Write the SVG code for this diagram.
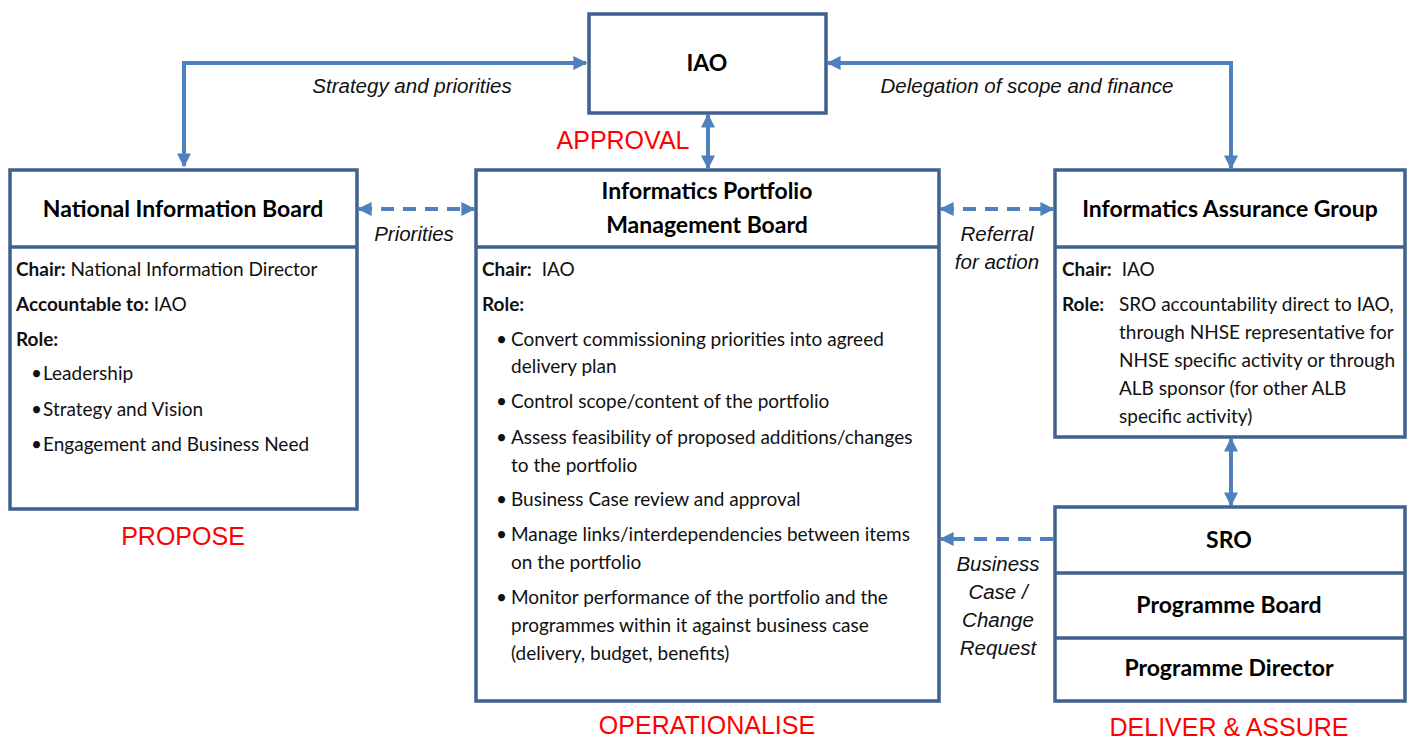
<svg xmlns="http://www.w3.org/2000/svg" width="1410" height="740" viewBox="0 0 1410 740">
<defs>
<marker id="ah" viewBox="0 0 10 10" refX="9" refY="5" markerWidth="14" markerHeight="14" markerUnits="userSpaceOnUse" orient="auto-start-reverse">
<path d="M0,0 L10,5 L0,10 z" fill="#4F81BD"/>
</marker>
<style>
.box{fill:#fff;stroke:#3E6190;stroke-width:3.5}
.div{stroke:#3E6190;stroke-width:3.5}
.con{fill:none;stroke:#4F81BD;stroke-width:4}
.dash{stroke-dasharray:13 9}
.hd{font-family:Lato,"Liberation Sans",sans-serif;font-weight:bold;font-size:23px;fill:#000;text-anchor:middle}
.bd{font-family:Lato,"Liberation Sans",sans-serif;font-size:19px;fill:#111}
.b{font-weight:bold}
.lab{font-family:"Liberation Sans",Arial,sans-serif;font-style:italic;font-size:20.5px;fill:#111;text-anchor:middle}
.red{font-family:"Liberation Sans",Arial,sans-serif;font-size:25px;fill:#FF0000;text-anchor:middle}
</style>
</defs>
<g id="connectors">
<path class="con" d="M184,166 V63 H586" marker-start="url(#ah)" marker-end="url(#ah)"/>
<path class="con" d="M828,63 H1231 V168" marker-start="url(#ah)" marker-end="url(#ah)"/>
<path class="con" d="M708,115 V168" marker-start="url(#ah)" marker-end="url(#ah)"/>
<path class="con dash" d="M359,209 H474" marker-start="url(#ah)" marker-end="url(#ah)"/>
<path class="con dash" d="M941,209 H1053" marker-start="url(#ah)" marker-end="url(#ah)"/>
<path class="con" d="M1231,439 V505" marker-start="url(#ah)" marker-end="url(#ah)"/>
<path class="con dash" d="M1053,539 H941" marker-end="url(#ah)"/>
<text class="lab" x="412" y="93">Strategy and priorities</text>
<text class="lab" x="1027" y="93">Delegation of scope and finance</text>
<text class="lab" x="414" y="241">Priorities</text>
<text class="lab" x="997" y="241">Referral</text>
<text class="lab" x="997" y="269">for action</text>
<text class="lab" x="998" y="571">Business</text>
<text class="lab" x="998" y="599">Case /</text>
<text class="lab" x="998" y="627">Change</text>
<text class="lab" x="998" y="655">Request</text>
</g>
<g id="iao">
<rect class="box" x="589" y="14" width="237" height="99"/>
<text class="hd" x="707" y="71">IAO</text>
<text class="red" x="623" y="149">APPROVAL</text>
</g>
<g id="nib">
<rect class="box" x="10" y="170" width="347" height="339"/>
<line class="div" x1="10" y1="247" x2="357" y2="247"/>
<text class="hd" x="183" y="217">National Information Board</text>
<text class="bd" x="16" y="276"><tspan class="b">Chair:</tspan> National Information Director</text>
<text class="bd" x="16" y="311"><tspan class="b">Accountable to:</tspan> IAO</text>
<text class="bd b" x="16" y="346">Role:</text>
<text class="bd" x="31" y="380">•</text><text class="bd" x="43" y="380">Leadership</text>
<text class="bd" x="31" y="416">•</text><text class="bd" x="43" y="416">Strategy and Vision</text>
<text class="bd" x="31" y="451">•</text><text class="bd" x="43" y="451">Engagement and Business Need</text>
<text class="red" x="183" y="545">PROPOSE</text>
</g>
<g id="ipmb">
<rect class="box" x="476" y="170" width="463" height="531"/>
<line class="div" x1="476" y1="247" x2="939" y2="247"/>
<text class="hd" x="707" y="199">Informatics Portfolio</text>
<text class="hd" x="707" y="233">Management Board</text>
<text class="bd" x="482" y="276"><tspan class="b">Chair:</tspan><tspan dx="10">IAO</tspan></text>
<text class="bd b" x="482" y="311">Role:</text>
<text class="bd" x="496" y="346">•</text><text class="bd" x="511" y="346">Convert commissioning priorities into agreed</text>
<text class="bd" x="511" y="373">delivery plan</text>
<text class="bd" x="496" y="408">•</text><text class="bd" x="511" y="408">Control scope/content of the portfolio</text>
<text class="bd" x="496" y="444">•</text><text class="bd" x="511" y="444">Assess feasibility of proposed additions/changes</text>
<text class="bd" x="511" y="472">to the portfolio</text>
<text class="bd" x="496" y="506">•</text><text class="bd" x="511" y="506">Business Case review and approval</text>
<text class="bd" x="496" y="541">•</text><text class="bd" x="511" y="541">Manage links/interdependencies between items</text>
<text class="bd" x="511" y="569">on the portfolio</text>
<text class="bd" x="496" y="604">•</text><text class="bd" x="511" y="604">Monitor performance of the portfolio and the</text>
<text class="bd" x="511" y="632">programmes within it against business case</text>
<text class="bd" x="511" y="660">(delivery, budget, benefits)</text>
<text class="red" x="707" y="734">OPERATIONALISE</text>
</g>
<g id="iag">
<rect class="box" x="1055" y="170" width="350" height="267"/>
<line class="div" x1="1055" y1="247" x2="1405" y2="247"/>
<text class="hd" x="1230" y="217">Informatics Assurance Group</text>
<text class="bd" x="1062" y="276"><tspan class="b">Chair:</tspan><tspan dx="10">IAO</tspan></text>
<text class="bd b" x="1062" y="311">Role:</text>
<text class="bd" x="1119" y="311">SRO accountability direct to IAO,</text>
<text class="bd" x="1119" y="339">through NHSE representative for</text>
<text class="bd" x="1119" y="367">NHSE specific activity or through</text>
<text class="bd" x="1119" y="395">ALB sponsor (for other ALB</text>
<text class="bd" x="1119" y="423">specific activity)</text>
</g>
<g id="sro">
<rect class="box" x="1055" y="507" width="350" height="194"/>
<line class="div" x1="1055" y1="573" x2="1405" y2="573"/>
<line class="div" x1="1055" y1="638" x2="1405" y2="638"/>
<text class="hd" x="1229" y="548">SRO</text>
<text class="hd" x="1229" y="613">Programme Board</text>
<text class="hd" x="1229" y="676">Programme Director</text>
<text class="red" x="1229" y="736">DELIVER &amp; ASSURE</text>
</g>
</svg>
